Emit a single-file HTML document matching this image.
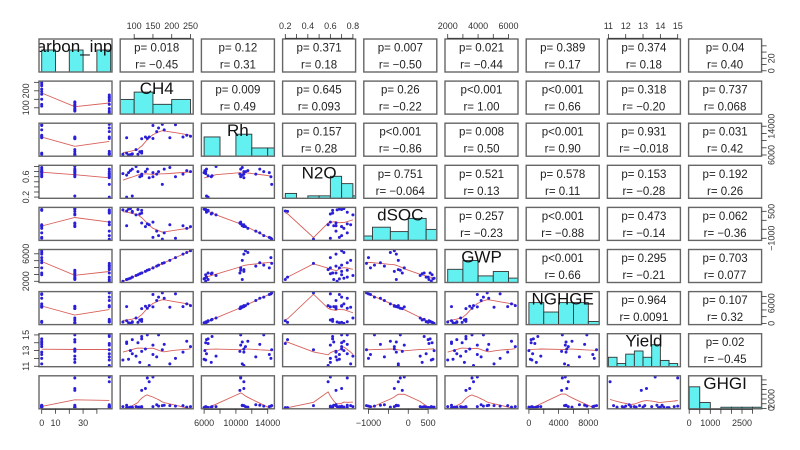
<!DOCTYPE html>
<html><head><meta charset="utf-8"><title>Pairs plot</title>
<style>
html,body{margin:0;padding:0;background:#fff;width:800px;height:450px;overflow:hidden}
svg{display:block}
text{font-family:"Liberation Sans",sans-serif}
</style></head>
<body>
<svg id="chart" width="800" height="450" viewBox="0 0 800 450"></svg>
<script>
// ---- data (top-level arrays) ----
const varNames = ["Carbon_input","CH4","Rh","N2O","dSOC","GWP","NGHGE","Yield","GHGI"];
const carbonInput = [0,0,0,0,0,0,0,0,0, 24,24,24,24,24,24,24,24,24, 49,49,49,49,49,49,49,49,49];
const ch4 = [250,240,230,210,195,180,150,120,110, 135,130,120,115,105,95,90,85,80, 175,165,160,150,140,120,95,80,70];
const rh = [11200,11500,11000,14400,10800,13000,14200,6500,6200, 10600,11000,10500,6900,7500,6300,6100,6000,10800, 14500,13500,12500,10600,11000,7000,6300,6500,6200];
const n2o = [0.7,0.72,0.65,0.6,0.78,0.75,0.68,0.62,0.7, 0.75,0.7,0.65,0.6,0.8,0.22,0.72,0.68,0.63, 0.45,0.7,0.65,0.6,0.58,0.62,0.75,0.2,0.66];
const dsoc = [-350,-450,-300,-1000,-250,-700,-950,550,600, -200,-350,-150,350,300,500,650,620,-300, -1050,-850,-600,-100,-250,400,450,520,580];
const gwp = [6450,6200,5950,5450,5050,4700,3950,3200,2950, 3600,3450,3200,3100,2850,2600,2450,2350,2250, 4600,4350,4200,3950,3700,3200,2600,2250,2000];
const nghge = [5300,5800,5000,8800,4800,7500,8600,600,300, 4500,5100,4400,1000,1600,300,0,200,5000, 9100,7800,6800,4900,5300,1200,500,800,400];
const yieldV = [13.5,14.2,12.8,12.0,11.3,13.8,12.5,14.5,14, 15,13.2,12.9,11.5,12.3,14.4,13.0,11.9,14.1, 13.1,15,12.2,13.7,11.1,14.8,12.6,13.9,11.8];
const ghgi = [200,150,300,250,300,350,200,100,150, 3200,2100,1900,150,200,100,150,100,350, 300,250,400,3300,2800,200,150,100,200];

// histogram bins (breaks / counts) per variable
const histBreaks = [
  [0,10,20,30,40,50],
  [50,100,150,200,250],
  [6000,8000,10000,12000,14000,16000],
  [0.2,0.3,0.4,0.5,0.6,0.7,0.8,0.9],
  [-1350,-900,-450,0,450,900],
  [2000,3000,4000,5000,6000,7000],
  [0,2000,4000,6000,8000,10000],
  [11,11.5,12,12.5,13,13.5,14,14.5,15],
  [0,500,1000,1500,2000,2500,3000,3500]
];
const histCounts = [
  [9,0,9,0,9],
  [6,9,4,6],
  [7,0,8,3,3],
  [2,0,1,1,9,6,1],
  [2,6,4,10,5],
  [6,10,3,5,2],
  [7,4,7,7,1],
  [3,1,4,5,3,7,2,1],
  [14,4,0,1,1,1,1]
];

// upper-triangle annotations (row-major)
const pVals = ["p= 0.018","p= 0.12","p= 0.371","p= 0.007","p= 0.021","p= 0.389","p= 0.374","p= 0.04",
  "p= 0.009","p= 0.645","p= 0.26","p<0.001","p<0.001","p= 0.318","p= 0.737",
  "p= 0.157","p<0.001","p= 0.008","p<0.001","p= 0.931","p= 0.031",
  "p= 0.751","p= 0.521","p= 0.578","p= 0.153","p= 0.192",
  "p= 0.257","p<0.001","p= 0.473","p= 0.062",
  "p<0.001","p= 0.295","p= 0.703",
  "p= 0.964","p= 0.107",
  "p= 0.02"];
const rVals = ["r= \u22120.45","r= 0.31","r= 0.18","r= \u22120.50","r= \u22120.44","r= 0.17","r= 0.18","r= 0.40",
  "r= 0.49","r= 0.093","r= \u22120.22","r= 1.00","r= 0.66","r= \u22120.20","r= 0.068",
  "r= 0.28","r= \u22120.86","r= 0.50","r= 0.90","r= \u22120.018","r= 0.42",
  "r= \u22120.064","r= 0.13","r= 0.11","r= \u22120.28","r= 0.26",
  "r= \u22120.23","r= \u22120.88","r= \u22120.14","r= \u22120.36",
  "r= 0.66","r= \u22120.21","r= 0.077",
  "r= 0.0091","r= 0.32",
  "r= \u22120.45"];

// axis ticks per variable and which get labels
const tickVals = [
  [0,10,20,30,40],[100,150,200,250],[6000,8000,10000,12000,14000],[0.2,0.3,0.4,0.5,0.6,0.7,0.8],
  [-1000,-500,0,500],[2000,3000,4000,5000,6000],[0,2000,4000,6000,8000],[11,12,13,14,15],[0,500,1000,1500,2000,2500,3000]
];
const xTickLabels = [
  ["0","10","","30",""],["100","150","200","250"],["6000","","10000","","14000"],["0.2","","0.4","","0.6","","0.8"],
  ["\u22121000","","0","500"],["2000","","4000","","6000"],["0","","4000","","8000"],["11","12","13","14","15"],["0","","1000","","","2500",""]
];
const yTickLabels = [
  ["0","","20","",""],["100","","200",""],["6000","","","","14000"],["0.2","","","","0.6","",""],
  ["\u22121000","","","500"],["2000","","","","6000"],["0","","","6000",""],["11","","13","","15"],["0","","2000","","","",""]
];

const allVars = [carbonInput,ch4,rh,n2o,dsoc,gwp,nghge,yieldV,ghgi];

// ---- layout ----
const svg = document.getElementById('chart');
const NS = 'http://www.w3.org/2000/svg';
const PW = 73, PH = 33;
function colLeft(j){ return 39 + 81.2*j; }
function rowTop(i){ return 39 + 42.1*i; }
function ext(v){ const mn=Math.min(...v), mx=Math.max(...v), d=(mx-mn)*0.04; return [mn-d, mx+d]; }
const ranges = allVars.map(ext);
function xs(v,j,val){ const r=ranges[v]; return colLeft(j) + (val-r[0])/(r[1]-r[0])*PW; }
function ys(v,i,val){ const r=ranges[v]; return rowTop(i) + PH - (val-r[0])/(r[1]-r[0])*PH; }
function el(tag, attrs, parent){ const e=document.createElementNS(NS,tag); for(const k in attrs) e.setAttribute(k,attrs[k]); (parent||svg).appendChild(e); return e; }

function lowess(x, y){
  const n=x.length, idx=[...Array(n).keys()].sort((a,b)=>x[a]-x[b]);
  const sx=idx.map(k=>x[k]), sy=idx.map(k=>y[k]);
  const r=Math.max(2,Math.ceil(n*2/3)), out=[];
  for(let i=0;i<n;i++){
    const d=sx.map(v=>Math.abs(v-sx[i])); const h=[...d].sort((a,b)=>a-b)[r-1]||1e-9;
    let sw=0,swx=0,swy=0,swxx=0,swxy=0;
    for(let k=0;k<n;k++){ let u=d[k]/(h*1.0000001); let w=u<1?Math.pow(1-u*u*u,3):0; sw+=w;swx+=w*sx[k];swy+=w*sy[k];swxx+=w*sx[k]*sx[k];swxy+=w*sx[k]*sy[k]; }
    const mx=swx/sw,my=swy/sw,vx=swxx/sw-mx*mx;
    const b=vx>1e-12*(Math.abs(mx)+1)?(swxy/sw-mx*my)/vx:0;
    out.push([sx[i], my+b*(sx[i]-mx)]);
  }
  return out;
}

const defs = el('defs',{});
let ui = 0;
for(let i=0;i<9;i++){
  for(let j=0;j<9;j++){
    const L=colLeft(j), T=rowTop(i);
    const g = el('g',{});
    
    
    const cp = el('clipPath',{id:'cp'+i+'_'+j},defs);
    el('rect',{x:L,y:T,width:PW,height:PH},cp);
    const inner = el('g',{'clip-path':'url(#cp'+i+'_'+j+')'},g);
    if(i===j){
      const br=histBreaks[i], ct=histCounts[i], mx=Math.max(...ct);
      for(let k=0;k<ct.length;k++){
        const x0=xs(i,j,br[k]), x1=xs(i,j,br[k+1]), h=ct[k]/(1.5*mx)*PH;
        const b=el('rect',{x:x0,y:T+PH-h,width:x1-x0,height:h,fill:'#62f0f0',stroke:'#333','stroke-width':0.9},inner);
        
        
      }
      const t=el('text',{x:L+PW/2,y:T+13,'text-anchor':'middle','font-size':17,fill:'#111'},inner);
      t.textContent=varNames[i];
      
      
    } else if(j>i){
      const t1=el('text',{x:L+PW/2,y:T+12.5,'text-anchor':'middle','font-size':11.5,fill:'#222'},g);
      t1.textContent=pVals[ui];
      
      
      const t2=el('text',{x:L+PW/2,y:T+29.5,'text-anchor':'middle','font-size':11.5,fill:'#222'},g);
      t2.textContent=rVals[ui];
      
      
      ui++;
    } else {
      const X=allVars[j], Y=allVars[i];
      const lw=lowess(X,Y);
      const d=lw.map((p,k)=>(k?'L':'M')+xs(j,j,p[0]).toFixed(1)+','+ys(i,i,p[1]).toFixed(1)).join('');
      const ln=el('path',{d:d,fill:'none',stroke:'#d8605a','stroke-width':0.9},inner);
      
      
      for(let k=0;k<X.length;k++){
        const c=el('circle',{cx:xs(j,j,X[k]),cy:ys(i,i,Y[k]),r:1.5,fill:'#2a1fd6'},inner);
        
        
      }
    }
    const bx=el('rect',{x:L,y:T,width:PW,height:PH,fill:'none',stroke:'#666','stroke-width':1.4},g);
    
    
  }
}

// ---- axes ----
function axisG(name){ const g=el('g',{stroke:'#333','stroke-width':0.8});   return g; }
for(let v=0;v<9;v++){
  const tv=tickVals[v];
  {
    const top = (v%2===1);
    const g=axisG((top?'top':'bottom')+'-x-axis-'+varNames[v]);
    const yEdge = top ? rowTop(0) : rowTop(8)+PH;
    const yT = top ? yEdge-5 : yEdge+5;
    const xsPos = tv.map(t=>xs(v,v,t));
    el('line',{x1:xsPos[0],x2:xsPos[xsPos.length-1],y1:yEdge-(top?0.7:-0.7),y2:yEdge-(top?0.7:-0.7)},g);
    tv.forEach((t,k)=>{
      el('line',{x1:xsPos[k],x2:xsPos[k],y1:yEdge,y2:yT},g);
      if(xTickLabels[v][k]){
        const tx=el('text',{x:xsPos[k],y:top?yEdge-10:yEdge+17,'text-anchor':'middle','font-size':9,fill:'#333',stroke:'none'},g);
        tx.textContent=xTickLabels[v][k];
      }
    });
  }
  {
    const left = (v%2===1);
    const g=axisG((left?'left':'right')+'-y-axis-'+varNames[v]);
    const xEdge = left ? colLeft(0) : colLeft(8)+PW;
    const xT = left ? xEdge-5 : xEdge+5;
    const ysPos = tv.map(t=>ys(v,v,t));
    tv.forEach((t,k)=>{
      if(ysPos[k] < rowTop(v)-1 || ysPos[k] > rowTop(v)+PH+1) return;
      el('line',{x1:xEdge,x2:xT,y1:ysPos[k],y2:ysPos[k]},g);
      if(yTickLabels[v][k]){
        const lx = left ? xEdge-10 : xEdge+13;
        const tx=el('text',{x:lx,y:ysPos[k],'text-anchor':'middle','font-size':9,fill:'#333',stroke:'none',transform:'rotate(-90 '+lx+' '+ysPos[k]+')'},g);
        tx.textContent=yTickLabels[v][k];
      }
    });
  }
}
</script>
</body></html>
